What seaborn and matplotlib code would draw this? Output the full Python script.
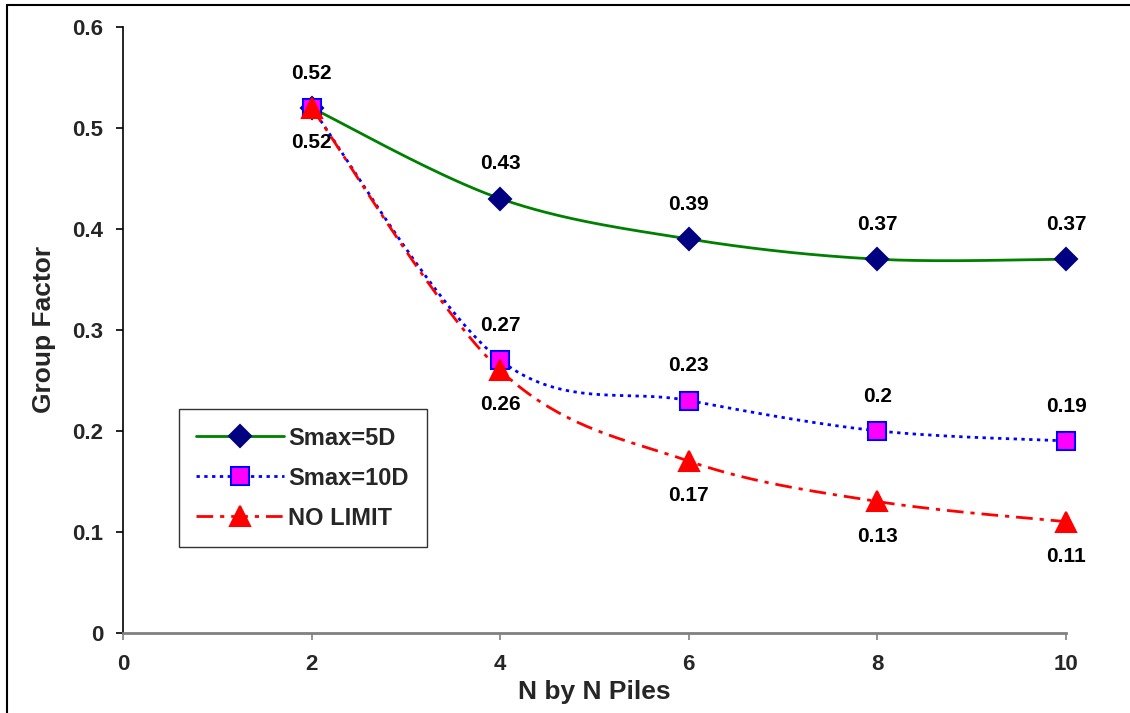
import numpy as np
import pandas as pd
import matplotlib
matplotlib.use("Agg")
import matplotlib.pyplot as plt
from matplotlib.lines import Line2D
import seaborn as sns

# Pile group factors for N x N pile groups
n_piles = [2, 4, 6, 8, 10]
smax_5d = [0.52, 0.43, 0.39, 0.37, 0.37]
smax_10d = [0.52, 0.27, 0.23, 0.20, 0.19]
no_limit = [0.52, 0.26, 0.17, 0.13, 0.11]

x_ticks = [0, 2, 4, 6, 8, 10]
y_ticks = [0, 0.1, 0.2, 0.3, 0.4, 0.5, 0.6]
series_names = ["Smax=5D", "Smax=10D", "NO LIMIT"]


def smooth_curve(xs, ys, steps=40):
    """Cubic Bezier smoothing through every point (spreadsheet-style smoothed line)."""
    p = np.column_stack([xs, ys]).astype(float)
    ext = np.vstack([p[0], p, p[-1]])
    out = []
    t = np.linspace(0, 1, steps)[:, None]
    for i in range(len(p) - 1):
        p0, p1 = ext[i + 1], ext[i + 2]
        c1 = p0 + (ext[i + 2] - ext[i]) / 6.0
        c2 = p1 - (ext[i + 3] - ext[i + 1]) / 6.0
        seg = ((1 - t) ** 3) * p0 + 3 * ((1 - t) ** 2) * t * c1 + 3 * (1 - t) * t ** 2 * c2 + t ** 3 * p1
        out.append(seg if i == 0 else seg[1:])
    out = np.vstack(out)
    return out[:, 0], out[:, 1]


sns.set_theme(style="white")
plt.rcParams["font.family"] = ["Liberation Sans", "DejaVu Sans"]
plt.rcParams["font.weight"] = "bold"

fig = plt.figure(figsize=(11.3, 7.13), dpi=100)
ax = fig.add_axes([0.1088, 0.1126, 0.9434 - 0.1088, 0.9621 - 0.1126])

styles = [
    dict(values=smax_5d, color="#008000", ls="-", marker="D", mfc="#000080", mec="#000080", ms=11, lw=2.0),
    dict(values=smax_10d, color="#0000FF", ls=(0, (1.2, 1.6)), marker="s", mfc="#FF00FF", mec="#0000FF", ms=13, lw=2.0),
    dict(values=no_limit, color="#FF0000", ls=(0, (6, 2.5, 1.5, 2.5)), marker="^", mfc="#FF0000", mec="#FF0000", ms=15, lw=2.0),
]

for name, st in zip(series_names, styles):
    sx, sy = smooth_curve(n_piles, st["values"])
    curve = pd.DataFrame({"x": sx, "y": sy})
    sns.lineplot(data=curve, x="x", y="y", ax=ax, sort=False, color=st["color"],
                 linestyle=st["ls"], linewidth=st["lw"], zorder=2, estimator=None)

for name, st in zip(series_names, styles):
    ax.plot(n_piles, st["values"], linestyle="none", marker=st["marker"], markersize=st["ms"],
            markerfacecolor=st["mfc"], markeredgecolor=st["mec"], markeredgewidth=1.5,
            zorder=3, clip_on=False)

# Value labels: first two series above, last series below
for i, name in enumerate(series_names):
    vals = styles[i]["values"]
    dy = -25 if name == "NO LIMIT" else 25
    for xv, yv in zip(n_piles, vals):
        if name == "Smax=10D" and xv == 2:
            continue
        ax.annotate(f"{yv:g}", (xv, yv), xytext=(0, dy), textcoords="offset points",
                    ha="center", va="center", fontsize=15, fontweight="bold", color="black")

ax.set_xlim(0, 10)
ax.set_ylim(0, 0.6)
ax.set_xticks(x_ticks)
ax.set_yticks(y_ticks)
ax.set_xticklabels([f"{v:g}" for v in x_ticks], fontsize=16, fontweight="bold")
ax.set_yticklabels([f"{v:g}" for v in y_ticks], fontsize=16, fontweight="bold")
ax.set_xlabel("N by N Piles", fontsize=19, fontweight="bold", labelpad=4)
ax.set_ylabel("Group Factor", fontsize=19, fontweight="bold", labelpad=12)

for side in ["top", "right"]:
    ax.spines[side].set_visible(False)
ax.spines["left"].set_color("black")
ax.spines["left"].set_linewidth(1.2)
ax.spines["bottom"].set_color("#808080")
ax.spines["bottom"].set_linewidth(2.0)
ax.tick_params(axis="y", direction="out", length=5, width=1.2, color="black", left=True, pad=9)
ax.tick_params(axis="x", direction="out", length=5, width=1.2, color="#808080", bottom=True, pad=10)
ax.grid(False)

handles = [
    Line2D([], [], color=st["color"], linestyle=st["ls"], linewidth=st["lw"], marker=st["marker"],
           markersize=st["ms"], markerfacecolor=st["mfc"], markeredgecolor=st["mec"], markeredgewidth=1.5)
    for st in styles
]
leg = ax.legend(handles, series_names, loc="lower left", bbox_to_anchor=(0.059, 0.141),
                frameon=True, fancybox=False, fontsize=17, handlelength=3.7, handletextpad=0.2,
                labelspacing=0.72, borderpad=0.75, borderaxespad=0)
leg.get_frame().set_edgecolor("black")
leg.get_frame().set_linewidth(1.0)
for t in leg.get_texts():
    t.set_fontweight("bold")

# Outer chart frame
fig.add_artist(Line2D([7 / 1130, 7 / 1130], [0, 1 - 5 / 713], transform=fig.transFigure, color="black", lw=1.5))
fig.add_artist(Line2D([7 / 1130, 1], [1 - 5 / 713, 1 - 5 / 713], transform=fig.transFigure, color="black", lw=1.5))

fig.savefig("out.png", dpi=100)
